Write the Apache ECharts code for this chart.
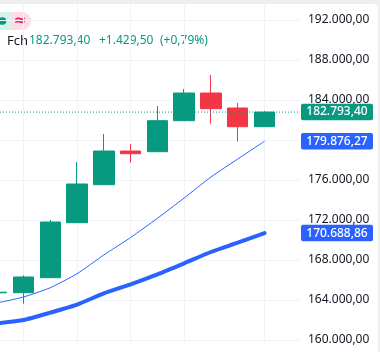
<!DOCTYPE html>
<html>
<head>
<meta charset="utf-8">
<style>
  html, body { margin: 0; padding: 0; background: #efefef; overflow: hidden; }
  #panel { position: absolute; left: 0; top: 4px; width: 378px; height: 348px; background: #fff; border-top-right-radius: 5px; }
  #main { position: absolute; left: 0; top: 0; width: 380px; height: 352px; }
</style>
</head>
<body>
<div id="panel"></div>
<div id="main"></div>
<script src="https://cdn.jsdelivr.net/npm/echarts@6/dist/echarts.min.js"></script>
<script>
  var days = ['d0','d1','d2','d3','d4','d5','d6','d7','d8','d9','d10','d11'];
  var opens  = [164720,164730,166230,171730,175530,178900,178830,181930,184700,183200,181330];
  var closes = [164780,166300,171800,175600,178900,178630,181930,184700,183130,181330,182793.40];
  var lows   = [164720,163630,166230,171730,175530,177730,178830,181930,181630,179870,181330];
  var highs  = [164780,166470,172000,177800,180600,179600,183400,185100,186500,183700,182900];
  var fastMa = [163700,164300,165230,166630,168500,170250,172170,174200,176300,178100,179876.27];
  var slowMa = [161660,162000,162730,163530,164670,165570,166570,167670,168800,169730,170688.86];
  var lastPrice = 182793.40;
  var priceTicks = [160000,192000];
  var tickStep = 4000;
  var gridDays = [1,3,5,7,10];

  var UP = '#089981', DOWN = '#F23645', BLUE = '#2962FF', GRID = '#F0F3FA';
  var FONT = '"Noto Sans"';
  var TAG_PATH = 'path://M2 0H70A2 2 0 0 1 72 2V14.5A2 2 0 0 1 70 16.5H2A2 2 0 0 1 0 14.5V2A2 2 0 0 1 2 0Z';

  // 182793.4 -> 182.793,40
  function fmt(v) {
    var p = v.toFixed(2).split('.');
    return p[0].replace(/\B(?=(\d{3})+$)/g, '.') + ',' + p[1];
  }

  function tag(v, color) {
    return {
      coord: [1, v],
      symbol: TAG_PATH,
      symbolKeepAspect: false,
      symbolSize: [72, 16.5],
      symbolOffset: [37, 0],
      itemStyle: { color: color },
      label: { show: true, position: 'inside', formatter: fmt(v), color: '#fff', fontFamily: FONT, fontSize: 12, fontWeight: 500 }
    };
  }

  var candles = [];
  for (var i = 0; i < opens.length; i++) {
    candles.push([opens[i], closes[i], lows[i], highs[i]]);
  }

  var chart = echarts.init(document.getElementById('main'), null, { renderer: 'canvas' });
  chart.setOption({
    animation: false,
    backgroundColor: 'transparent',
    grid: [
      // axis + horizontal lines
      { left: 0, width: 300, top: 20, bottom: 12, outerBoundsMode: 'none' },
      // candles, vertical lines go a bit past the price ticks
      { left: -3.3, width: 294.6, top: 4, bottom: 9, outerBoundsMode: 'none' }
    ],
    xAxis: [
      { type: 'category', gridIndex: 0, show: false, boundaryGap: false, data: ['a','b'] },
      {
        type: 'category', gridIndex: 1, boundaryGap: false, data: days,
        axisLine: { show: false }, axisTick: { show: false }, axisLabel: { show: false },
        splitLine: {
          show: true,
          interval: function (idx) { return gridDays.indexOf(idx) >= 0; },
          lineStyle: { color: GRID, width: 1 }
        }
      }
    ],
    yAxis: [
      {
        type: 'value', gridIndex: 0, position: 'right',
        min: priceTicks[0], max: priceTicks[1], interval: tickStep,
        axisLine: { show: false }, axisTick: { show: false },
        axisLabel: { margin: 8, color: '#131722', fontFamily: FONT, fontSize: 12, formatter: fmt },
        splitLine: { show: true, lineStyle: { color: GRID, width: 1 } }
      },
      { type: 'value', gridIndex: 1, show: false, min: 159700, max: 193600, splitLine: { show: false } }
    ],
    series: [
      {
        name: 'last', type: 'line', xAxisIndex: 0, yAxisIndex: 0, data: [lastPrice, lastPrice],
        symbol: 'none', lineStyle: { color: UP, width: 1, type: [1, 2] },
        markPoint: {
          z: 10,
          data: [tag(lastPrice, UP), tag(fastMa[10], BLUE), tag(slowMa[10], BLUE)]
        }
      },
      {
        name: 'price', type: 'candlestick', xAxisIndex: 1, yAxisIndex: 1, data: candles, barWidth: 21,
        itemStyle: { color: UP, color0: DOWN, borderColor: UP, borderColor0: DOWN, borderWidth: 1 }
      },
      {
        name: 'fast', type: 'line', xAxisIndex: 1, yAxisIndex: 1, data: fastMa, smooth: 0.2,
        symbol: 'none', lineStyle: { color: BLUE, width: 1 }
      },
      {
        name: 'slow', type: 'line', xAxisIndex: 1, yAxisIndex: 1, data: slowMa, smooth: 0.2,
        symbol: 'none', lineStyle: { color: BLUE, width: 4, cap: 'round' }
      }
    ],
    graphic: [
      { type: 'rect', x: 11, y: 12, shape: { width: 20, height: 18, r: [0, 9, 9, 0] }, style: { fill: '#FCDDE5' } },
      { type: 'rect', x: 0, y: 12, shape: { width: 11, height: 18 }, style: { fill: '#D8F1EC' } },
      { type: 'circle', x: 2.5, y: 21, shape: { r: 3.8 }, style: { fill: UP } },
      { type: 'text', x: 20, y: 21, style: { text: '≈', align: 'center', verticalAlign: 'middle', fill: '#E91E63', font: 'bold 15px "DejaVu Sans"' } },
      { type: 'text', left: 7, top: 35, style: { text: 'Fch', fill: '#131722', font: '13px ' + FONT } },
      { type: 'text', left: 29, top: 35, style: { text: fmt(lastPrice), fill: UP, font: '12px ' + FONT } },
      { type: 'text', left: 99, top: 35, style: { text: '+1.429,50', fill: UP, font: '12px ' + FONT } },
      { type: 'text', left: 160, top: 35, style: { text: '(+0,79%)', fill: UP, font: '12px ' + FONT } }
    ]
  });
</script>
</body>
</html>
